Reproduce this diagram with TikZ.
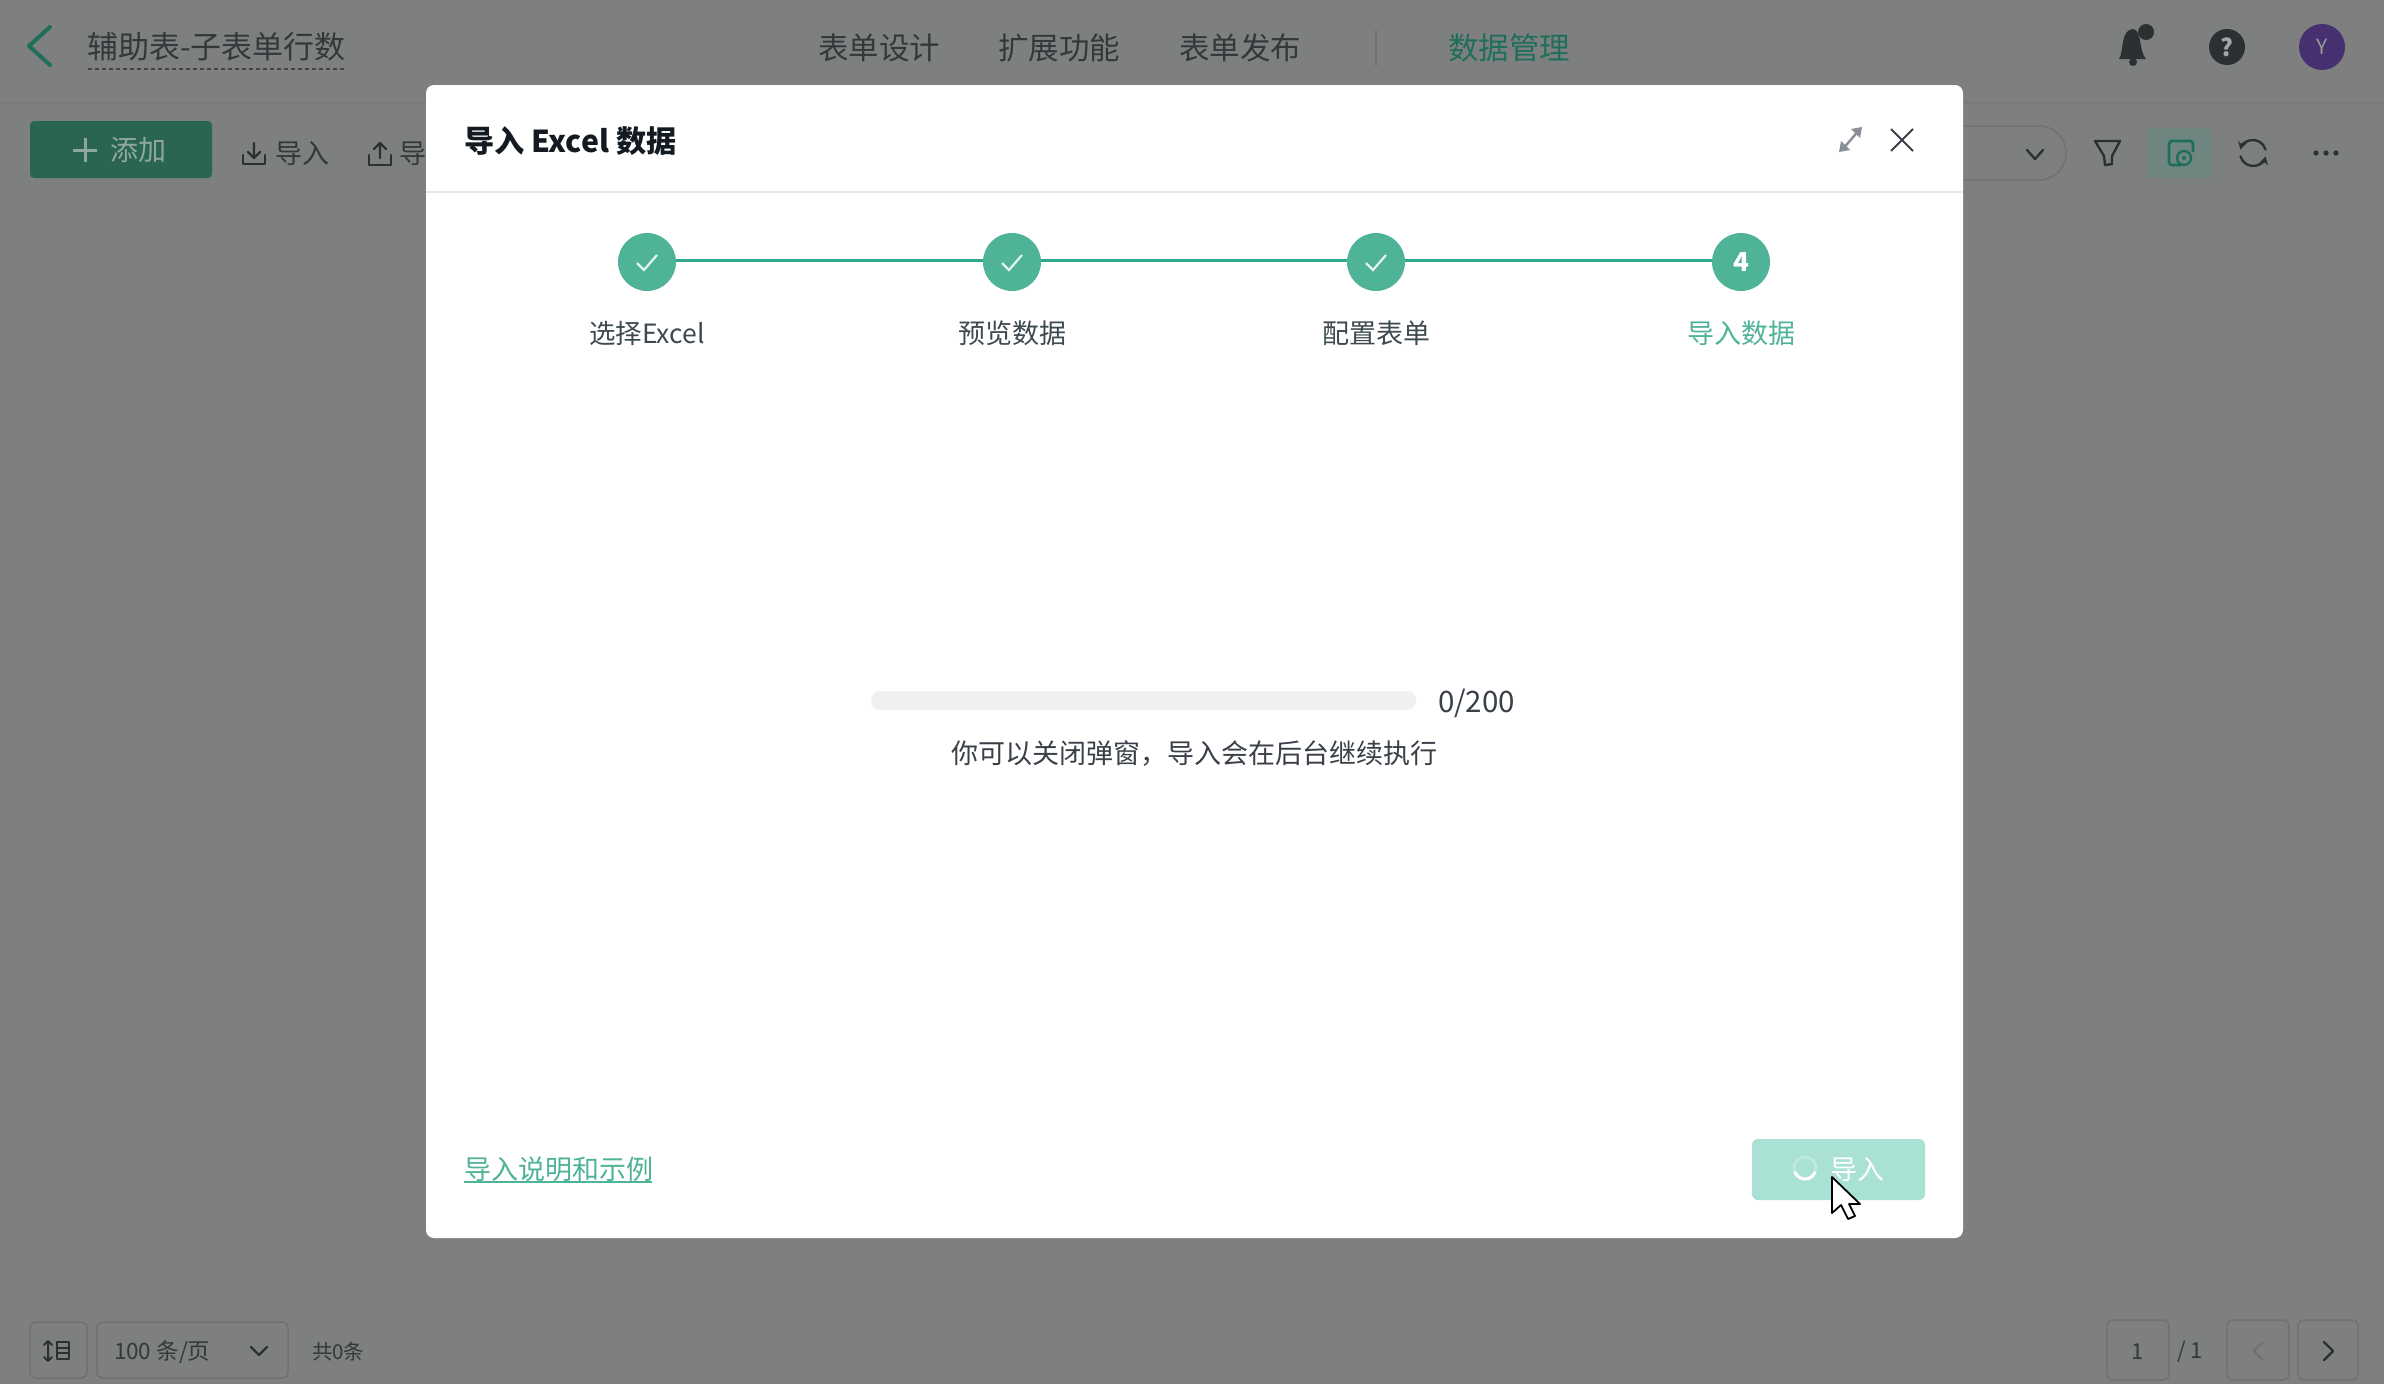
\documentclass[tikz,border=0pt]{standalone}
\usepackage{fontspec}
\setmainfont{Noto Sans CJK SC}
\usetikzlibrary{arrows.meta}
\definecolor{dimbg}{HTML}{7E807F}
\definecolor{seam}{HTML}{787A79}
\definecolor{dimink}{HTML}{2C3033}
\definecolor{dimtext}{HTML}{33383B}
\definecolor{dimgreen}{HTML}{1F6E5C}
\definecolor{addfill}{HTML}{2A6552}
\definecolor{addtext}{HTML}{8FA89F}
\definecolor{ghostline}{HTML}{6F7271}
\definecolor{stepgreen}{HTML}{4FB397}
\definecolor{stepline}{HTML}{2FA98A}
\definecolor{steplabel}{HTML}{3D4A50}
\definecolor{busy}{HTML}{A9E1D5}
\definecolor{track}{HTML}{EFF0F2}
\definecolor{modalink}{HTML}{141A22}
\definecolor{bodyink}{HTML}{3A4048}
\definecolor{rule}{HTML}{E8E9EE}
\definecolor{iconmid}{HTML}{8A8F96}
\definecolor{tbhi}{HTML}{6F8680}
\definecolor{avatar}{HTML}{46306F}
\newcommand{\fsz}[1]{\fontsize{#1pt}{#1pt}\selectfont}
\tikzset{
  txt/.style={inner sep=0pt,outer sep=0pt,text=#1},
  txt/.default=dimtext,
  pagerbox/.style={draw=ghostline,line width=1.5pt,rounded corners=6pt},
  stepnode/.style={circle,fill=stepgreen,minimum size=58pt,inner sep=0pt,outer sep=0pt},
  stepline/.style={draw=stepline,line width=3pt},
  tick/.style={draw=white!85!stepgreen,line width=2.2pt},
  icon/.style={draw=dimink,line width=2.4pt,line cap=round,line join=round},
}
\begin{document}
\begin{tikzpicture}[x=1pt,y=-1pt]
\useasboundingbox (0,0) rectangle (2384,1384);
\fill[dimbg] (0,0) rectangle (2384,1384);
\fill[seam] (0,102) rectangle (2384,104);
% --- top bar
\draw[dimgreen,line width=4pt,line cap=round,line join=round] (50,27) -- (29,46) -- (50,65);
\node[txt,anchor=west,font=\fsz{31}] (title) at (87,47) {辅助表-子表单行数};
\draw[ghostline!60!black,line width=1.5pt,dash pattern=on 4pt off 3pt] (88,69) -- (345,69);
\node[txt,font=\fsz{30.5}] (nav1) at (879,48) {表单设计};
\node[txt,font=\fsz{30.5}] (nav2) at (1059,48) {扩展功能};
\node[txt,font=\fsz{30.5}] (nav3) at (1240,48) {表单发布};
\draw[ghostline,line width=1.5pt] (1376,30) -- (1376,66);
\node[txt=dimgreen,font=\fsz{30.5}] (nav4) at (1509,48) {数据管理};
% bell
\fill[dimink] (2119,59) .. controls (2124,52) and (2120,30) .. (2133,29) .. controls (2142,30) and (2139,52) .. (2146,59) -- cycle;
\fill[dimink] (2133,62) circle (4pt);
\fill[dimink] (2146,32) circle (8pt);
\node[circle,fill=dimink,minimum size=36pt,inner sep=0pt,text=dimbg!70!white,font=\fsz{24}\bfseries] (help) at (2227,47) {?};
\node[circle,fill=avatar,minimum size=46pt,inner sep=0pt,text=dimbg!80!white,font=\fsz{21}] (ava) at (2322,47) {Y};
% --- toolbar left
\fill[addfill,rounded corners=4pt] (30,121) rectangle (212,178);
\draw[addtext,line width=3pt] (73,150) -- (97,150) (85,138) -- (85,162);
\node[txt=addtext,font=\fsz{28}] (add) at (138,150) {添加};
\draw[icon,line width=2.2pt] (254,143) -- (254,158) (248,152) -- (254,158) -- (260,152);
\draw[icon,line width=2.2pt] (243,155) -- (243,164) -- (265,164) -- (265,155);
\node[txt,font=\fsz{27}] (imp) at (302,153) {导入};
\draw[icon,line width=2.2pt] (369,155) -- (369,165) -- (391,165) -- (391,155);
\draw[icon,line width=2.2pt] (380,143) -- (380,158) (374,149) -- (380,143) -- (386,149);
\node[txt,anchor=west,font=\fsz{27}] (exp) at (399,153) {导出};
% --- toolbar right
\draw[ghostline,line width=1.5pt,rounded corners=27pt] (1900,126) -- (2066,126) -- (2066,180) -- (1900,180);
\draw[icon] (2027,150) -- (2035,159) -- (2043,150);
\draw[icon] (2095,141) -- (2120,141) -- (2112,156) -- (2112,164) -- (2105,165) -- (2104,156) -- cycle;
\fill[tbhi,rounded corners=5pt] (2147,128) rectangle (2212,178);
\draw[dimgreen,line width=2.6pt,rounded corners=3pt] (2181,165) -- (2169,165) -- (2169,141) -- (2193,141) -- (2193,152);
\draw[dimgreen,line width=2.4pt] (2184,158) circle (7pt);
\fill[dimgreen] (2184,158) circle (2pt);
\draw[icon,-{Stealth[length=8pt,width=9pt]}] (2265.5,149.6) arc[start angle=15,end angle=165,radius=13pt];
\draw[icon,-{Stealth[length=8pt,width=9pt]}] (2240.5,156.4) arc[start angle=195,end angle=345,radius=13pt];
\foreach \dx in {2316,2326,2336} \fill[dimink] (\dx,153) circle (2.6pt);
% --- bottom bar
\draw[pagerbox] (30,1322) rectangle (87,1378);
\draw[icon,line width=2pt] (48,1342) -- (48,1360) (44,1345) -- (48,1341) -- (52,1345) (44,1357) -- (48,1361) -- (52,1357);
\draw[icon,line width=2pt] (57,1342) rectangle (69,1359) (57,1348) -- (69,1348) (57,1353) -- (69,1353);
\draw[pagerbox] (97,1322) rectangle (288,1378);
\node[txt,anchor=west,font=\fsz{22.5}] (size) at (114,1352) {100 条/页};
\draw[icon] (251,1347) -- (259,1355) -- (267,1347);
\node[txt,anchor=west,font=\fsz{20.5}] (total) at (312,1352) {共0条};
\draw[pagerbox] (2107,1320) rectangle (2169,1380);
\node[txt,font=\fsz{22}] (cur) at (2138,1352) {1};
\node[txt,font=\fsz{22}] (ofn) at (2190,1352) {/ 1};
\draw[pagerbox] (2227,1320) rectangle (2289,1380);
\draw[ghostline,line width=2.4pt] (2263,1342) -- (2254,1351) -- (2263,1360);
\draw[pagerbox] (2298,1320) rectangle (2358,1380);
\draw[icon] (2324,1342) -- (2333,1351) -- (2324,1360);
% --- modal
\fill[white,rounded corners=8pt] (426,85) rectangle (1963,1238);
\draw[rule,line width=1.5pt] (426,192) -- (1963,192);
\node[txt=modalink,anchor=west,font=\fsz{30.2}\bfseries] (mtitle) at (464,141) {导入 Excel 数据};
\draw[iconmid,line width=2.4pt] (1842,150) -- (1860,129);
\fill[iconmid] (1862,127) -- (1851,129) -- (1860,138) -- cycle;
\fill[iconmid] (1839,152) -- (1850,150) -- (1841,141) -- cycle;
\draw[bodyink,line width=2pt] (1891,129) -- (1913,151) (1913,129) -- (1891,151);
% steps
\node[stepnode] (s1) at (647,262) {};
\node[stepnode] (s2) at (1012,262) {};
\node[stepnode] (s3) at (1376,262) {};
\node[stepnode,text=white,font=\fsz{26}\bfseries] (s4) at (1741,262) {4};
\draw[stepline] (s1.east |- 0,260) -- (s2.west |- 0,260);
\draw[stepline] (s2.east |- 0,260) -- (s3.west |- 0,260);
\draw[stepline] (s3.east |- 0,260) -- (s4.west |- 0,260);
\foreach \n in {s1,s2,s3} \draw[tick] ([shift={(-10,1)}]\n.center) -- ([shift={(-3,8)}]\n.center) -- ([shift={(10,-7)}]\n.center);
\node[txt=steplabel,font=\fsz{26.5}] (l1) at (647,333) {选择Excel};
\node[txt=steplabel,font=\fsz{27}] (l2) at (1012,333) {预览数据};
\node[txt=steplabel,font=\fsz{27}] (l3) at (1376,333) {配置表单};
\node[txt=stepgreen,font=\fsz{27}] (l4) at (1741,333) {导入数据};
% progress
\fill[track,rounded corners=9pt] (871,691) rectangle (1416,710);
\node[txt=bodyink,anchor=west,font=\fsz{29.5}] (count) at (1438,703) {0/200};
\node[txt=bodyink,font=\fsz{27}] (hint) at (1194,754) {你可以关闭弹窗，导入会在后台继续执行};
% footer
\node[txt=stepgreen,anchor=west,font=\fsz{27}] (link) at (464,1169) {导入说明和示例};
\draw[stepgreen,line width=1.6pt] (464,1182) -- (652,1182);
\fill[busy,rounded corners=6pt] (1752,1139) rectangle (1925,1200);
\draw[white!25!busy,line width=3pt] (1805,1168) circle (11pt);
\draw[white,line width=3pt] (1794.7,1171.8) arc[start angle=200,end angle=340,radius=11pt];
\node[txt=white,font=\fsz{27}] (go) at (1857,1169) {导入};
\draw[black,fill=white,line width=1.8pt,line join=round] (1832,1177) -- (1832,1213) -- (1841,1205) -- (1848,1219) -- (1855,1216) -- (1849,1204) -- (1860,1204) -- cycle;
\end{tikzpicture}
\end{document}
